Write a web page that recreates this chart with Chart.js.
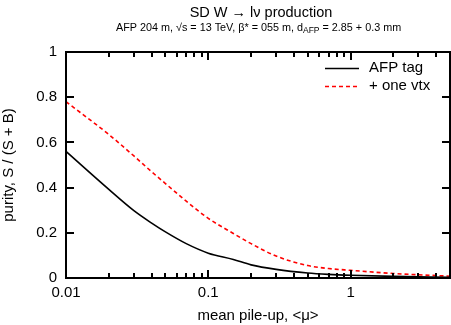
<!DOCTYPE html>
<html>
<head>
<meta charset="utf-8">
<script src="https://cdn.jsdelivr.net/npm/chart.js@4.4.1/dist/chart.umd.min.js"></script>
<style>
  html, body { margin: 0; padding: 0; background: #fff; }
  #wrap { width: 451px; height: 325px; }
</style>
</head>
<body>
<div id="wrap"><canvas id="grafico" width="451" height="325"></canvas></div>
<script>
// ====== DADOS ======
const mu = [0.01, 0.02, 0.03, 0.04, 0.05, 0.07, 0.1, 0.15, 0.2, 0.3, 0.5, 0.7, 1, 2, 5];
const afpTag = [0.56, 0.392, 0.298, 0.243, 0.204, 0.152, 0.11, 0.082, 0.058, 0.038, 0.022, 0.016, 0.012, 0.007, 0.003];
const oneVtx = [0.78, 0.635, 0.54, 0.47, 0.418, 0.34, 0.264, 0.197, 0.152, 0.097, 0.055, 0.042, 0.034, 0.02, 0.008];
const xTicks = [0.01, 0.1, 1];
const yTicks = [0, 0.2, 0.4, 0.6, 0.8, 1];

const fonte = "'Liberation Sans', Arial, sans-serif";

// ====== MOLDURA, TICKS, TÍTULO E LEGENDA ======
const moldura = {
  id: "moldura",
  afterDraw(chart) {
    const ctx = chart.ctx;
    const a = chart.chartArea;
    const sx = chart.scales.x, sy = chart.scales.y;
    const L = Math.round(a.left), R = Math.round(a.right);
    const T = Math.round(a.top), B = Math.round(a.bottom);
    ctx.save();
    ctx.setLineDash([]);
    ctx.fillStyle = "#000000";

    // caixa
    ctx.fillRect(L - 1, T - 1, R - L + 2, 2);
    ctx.fillRect(L - 1, B - 1, R - L + 2, 2);
    ctx.fillRect(L - 1, T - 1, 2, B - T + 2);
    ctx.fillRect(R - 1, T - 1, 2, B - T + 2);

    // ticks do eixo x (maiores e menores), embaixo e em cima
    xTicks.forEach(d => {
      for (let k = 1; k <= 9; k++) {
        const v = d * k;
        if (v > 5.0001) continue;
        const px = Math.round(sx.getPixelForValue(v));
        const len = k === 1 ? 8 : 5;
        ctx.fillRect(px - 1, B - len, 2, len);
        ctx.fillRect(px - 1, T, 2, len);
      }
    });
    // ticks do eixo y, esquerda e direita
    yTicks.forEach(v => {
      const py = Math.round(sy.getPixelForValue(v));
      ctx.fillRect(L, py - 1, 8, 2);
      ctx.fillRect(R - 8, py - 1, 8, 2);
    });

    ctx.textBaseline = "middle";

    // título
    ctx.font = "14.5px " + fonte;
    ctx.textAlign = "center";
    ctx.fillText("SD W \u2192 l\u03bd production", 261, 13);

    // subtítulo com subscrito
    ctx.textAlign = "left";
    ctx.font = "10.8px " + fonte;
    let tx = 116;
    const parte1 = "AFP 204 m, \u221as = 13 TeV, \u03b2* = 055 m, d";
    ctx.fillText(parte1, tx, 28);
    tx += ctx.measureText(parte1).width;
    ctx.font = "8.5px " + fonte;
    ctx.fillText("AFP", tx, 31);
    tx += ctx.measureText("AFP").width;
    ctx.font = "10.8px " + fonte;
    ctx.fillText(" = 2.85 + 0.3 mm", tx, 28);

    // legenda
    ctx.font = "15px " + fonte;
    chart.data.datasets.forEach((ds, i) => {
      const ly = 68 + i * 18;
      ctx.strokeStyle = ds.borderColor;
      ctx.lineWidth = ds.borderWidth;
      ctx.setLineDash(ds.borderDash || []);
      ctx.beginPath();
      ctx.moveTo(325, ly + 0.5);
      ctx.lineTo(359, ly + 0.5);
      ctx.stroke();
      ctx.setLineDash([]);
      ctx.fillStyle = "#000";
      ctx.fillText(ds.label, 369, ly);
    });
    ctx.restore();
  }
};

// ====== GRÁFICO ======
new Chart(document.getElementById("grafico"), {
  type: "line",
  data: {
    datasets: [
      {
        label: "AFP tag",
        data: mu.map((m, i) => ({ x: m, y: afpTag[i] })),
        borderColor: "#000000",
        borderWidth: 1.6,
        pointRadius: 0,
        cubicInterpolationMode: "monotone"
      },
      {
        label: "+ one vtx",
        data: mu.map((m, i) => ({ x: m, y: oneVtx[i] })),
        borderColor: "#ff0000",
        borderWidth: 1.6,
        borderDash: [4, 3],
        pointRadius: 0,
        cubicInterpolationMode: "monotone"
      }
    ]
  },
  options: {
    responsive: false,
    animation: false,
    events: [],
    layout: { padding: { top: 52, right: 1, left: 0, bottom: 0 } },
    plugins: { legend: { display: false }, tooltip: { enabled: false } },
    scales: {
      x: {
        type: "logarithmic",
        min: 0.01,
        max: 5,
        grid: { display: false, drawTicks: false },
        border: { display: false },
        afterBuildTicks: s => { s.ticks = xTicks.map(v => ({ value: v })); },
        afterFit: s => { s.height = 47; },
        ticks: {
          color: "#000",
          font: { family: fonte, size: 15 },
          padding: 6,
          maxRotation: 0,
          autoSkip: false,
          callback: v => String(v)
        },
        title: {
          display: true,
          text: "mean pile-up, <\u03bc>",
          color: "#000",
          font: { family: fonte, size: 15 },
          padding: { top: 2, bottom: 0 }
        }
      },
      y: {
        min: 0,
        max: 1,
        grid: { display: false, drawTicks: false },
        border: { display: false },
        afterBuildTicks: s => { s.ticks = yTicks.map(v => ({ value: v })); },
        afterFit: s => { s.width = 66; },
        ticks: {
          color: "#000",
          font: { family: fonte, size: 15 },
          padding: 9,
          callback: v => String(Math.round(v * 10) / 10)
        },
        title: {
          display: true,
          text: "purity, S / (S + B)",
          color: "#000",
          font: { family: fonte, size: 15 },
          padding: { top: 0, bottom: 0 }
        }
      }
    }
  },
  plugins: [moldura]
});
</script>
</body>
</html>
